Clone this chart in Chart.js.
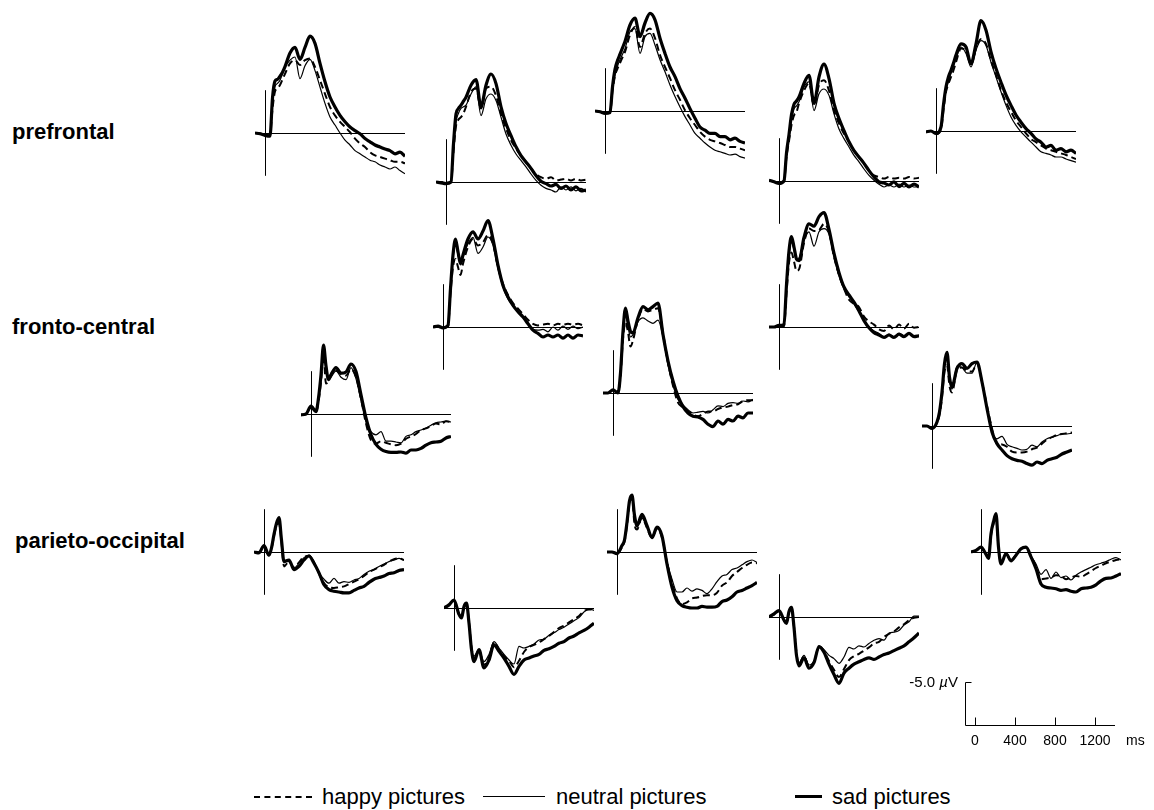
<!DOCTYPE html>
<html>
<head>
<meta charset="utf-8">
<script src="https://cdn.jsdelivr.net/npm/chart.js@4.4.1/dist/chart.umd.min.js"></script>
<style>
  body { margin:0; background:#fff; width:1154px; height:810px; position:relative; overflow:hidden;
         font-family:"Liberation Sans", Arial, sans-serif; color:#000; }
  canvas { position:absolute; }
  .region { position:absolute; font-weight:bold; font-size:22px; line-height:22px; white-space:nowrap; }
  .leg { position:absolute; font-size:22px; line-height:22px; white-space:nowrap; }
  .legline { position:absolute; height:0; }
  .unit { position:absolute; font-size:15px; line-height:15px; white-space:nowrap; }
</style>
</head>
<body>
<script>
// time points (ms) shared by every waveform
const times = [-100,-50,0,50,75,100,125,150,175,200,250,300,350,400,450,500,550,600,650,700,
  750,800,850,900,950,1000,1050,1100,1150,1200,1250,1300,1350,1400];
const conditions = ['happy pictures', 'neutral pictures', 'sad pictures'];
const regions = ['prefrontal', 'fronto-central', 'parieto-occipital'];
const scaleTicksMs = [0, 400, 800, 1200];
const scaleBarUv = -5.0;

// amplitudes in µV (negative plotted upward)
// prefrontal
const pf1Happy = [0,0.1,0.2,0.3,-3,-5.2,-5.6,-6,-6.7,-7.4,-8.7,-9.1,-8.5,-9.1,-9.3,-8.25,-6.6,-4.9,-3.25,-2.2,-1.4,-0.75,-0.1,0.7,1.3,1.75,2.4,2.8,3.0,3.2,3.4,3.6,3.6,3.8];
const pf1Neutral = [0,0,0.2,0.3,-3.5,-5.8,-6.2,-6.6,-7.4,-8.2,-9.1,-9.5,-6.8,-8.4,-9.2,-7.8,-5.75,-3.7,-2,-1,0,0.9,1.5,2.2,2.6,3.0,3.4,3.6,4.0,4.25,4.5,4.25,4.7,5.1];
const pf1Sad = [0,0.1,0.3,0.4,-4.4,-6.5,-6.7,-7.1,-7.6,-8.3,-10,-10.7,-9.2,-10.7,-12.1,-11.2,-8.7,-6.4,-4.5,-3.25,-2.2,-1.4,-0.75,-0.3,0.1,0.7,1.1,1.5,1.75,2.0,2.2,2.6,2.4,2.9];

const pf2Happy = [0,0,0.1,0,-3.8,-7,-7.8,-8.1,-8.6,-9.4,-11.25,-11.7,-9.2,-11.7,-11.9,-10.8,-8.5,-6.7,-5.2,-4.2,-3.3,-2.5,-1.7,-1.0,-0.6,-0.4,-0.6,-0.2,-0.3,-0.4,-0.2,-0.4,-0.2,-0.3];
const pf2Neutral = [0,0,0.1,0,-4.2,-7.5,-8.6,-9.2,-9.4,-9.6,-11,-11.9,-8.3,-10.4,-11,-10.2,-8.1,-6,-4.6,-3.5,-2.7,-1.9,-1.0,-0.2,0.4,0.8,1.0,1.25,0.6,1.0,0.6,1.1,0.8,1.25];
const pf2Sad = [0,0.1,0.2,0,-4.8,-8.5,-9.2,-9.6,-10.1,-10.6,-12.1,-12.8,-9.4,-12.1,-13.5,-12.3,-9.4,-7.3,-5.8,-4.4,-3.3,-2.5,-1.7,-0.8,-0.1,0.2,0.5,0.3,0.8,0.5,1.0,0.6,1.1,1.0];

const pf3Happy = [0,0.1,0.2,0.2,-2.5,-4.4,-5.3,-6,-6.7,-7.4,-9.5,-10.5,-8,-9.7,-10.3,-9.1,-7,-5.5,-4.1,-2.6,-1.4,-0.1,0.9,1.75,2.6,3.2,3.6,3.8,4,4.25,4.5,4.5,4.7,4.9];
const pf3Neutral = [0,0.1,0.2,0.2,-2.6,-4.5,-5.6,-6.4,-7.1,-7.8,-9.9,-10.3,-7.2,-9.3,-9.7,-8.25,-6.4,-4.9,-3.25,-1.8,-0.5,0.7,1.75,2.8,3.4,4,4.5,4.9,5.1,5.3,5.5,5.4,5.7,5.9];
const pf3Sad = [0,0.1,0.3,0.2,-3,-5.2,-6.3,-7.1,-7.9,-8.7,-10.75,-11.6,-9.3,-11,-12.2,-11.4,-9.1,-7.2,-5.5,-4.3,-2.8,-1.6,-0.3,0.9,2,2.4,2.8,2.8,3.2,3.2,3.6,3.4,3.8,4.0];

const pf4Happy = [-0.1,0.1,0.2,0,-3,-5,-7,-8.2,-8.6,-9.7,-11.3,-12.2,-9.5,-12,-12.6,-11.3,-8.8,-7.2,-5.9,-4.9,-3.8,-3,-2.2,-1.3,-0.7,-0.5,-0.3,-0.5,-0.3,-0.4,-0.3,-0.5,-0.3,-0.4];
const pf4Neutral = [-0.1,0.1,0.2,0,-3.2,-5.3,-7.6,-9.0,-9.4,-9.9,-11.75,-12.4,-8.8,-10.9,-11.5,-10.7,-8.4,-6.5,-5.3,-4.25,-3.2,-2.4,-1.5,-0.7,-0.1,0.4,0.75,0.5,0.75,0.4,0.75,0.5,0.75,0.7];
const pf4Sad = [-0.1,0.1,0.3,0,-3.5,-5.8,-8.3,-9.6,-10,-10.5,-12.2,-13.2,-9.7,-13,-14.6,-12.8,-9.7,-7.8,-6.3,-4.9,-3.8,-3,-2.2,-1.3,-0.5,0.1,0.25,0.5,0.1,0.7,0.3,0.75,0.4,0.75];

const pf5Happy = [0.1,0,0.4,-0.2,-2.6,-4.9,-5.9,-6.75,-7.6,-8.6,-10.3,-10.1,-8.4,-10.3,-11.5,-10.9,-8.8,-7,-5.1,-3.6,-2.4,-1.3,-0.5,0.3,1,1.4,1.8,2.2,2.4,2.6,2.8,3,3.25,3.5];
const pf5Neutral = [0.1,0,0.3,-0.3,-2.8,-5.1,-6.2,-7.2,-8.1,-9,-10.5,-9.7,-8,-10.1,-11.3,-10.7,-8.6,-6.75,-4.9,-3.2,-1.75,-0.7,0.1,0.75,1.4,2,2.6,2.8,3,3.25,3.25,3.5,3.7,3.9];
const pf5Sad = [0.1,0,0.3,-0.5,-3.3,-5.5,-6.8,-7.6,-8.5,-9.5,-10.9,-10.5,-8.4,-10.9,-13.8,-12.6,-9.9,-7.8,-6.1,-4.5,-3.2,-2,-1.1,-0.3,0.3,1,1.4,2,1.8,2.4,2.2,2.6,2.4,2.8];

// fronto-central
const fc1Happy = [0,0,0.1,-0.1,-4.2,-7.5,-8.5,-7.5,-6.5,-7.9,-10,-11,-10.2,-10.6,-11.5,-10.4,-7.5,-5.4,-4,-3,-2.3,-1.6,-0.9,-0.4,-0.2,-0.3,-0.4,-0.2,-0.4,-0.3,-0.4,-0.3,-0.4,-0.2];
const fc1Neutral = [0,0,0.1,-0.1,-4.5,-8.5,-10.4,-9,-8,-8.75,-10.4,-11.2,-9.2,-10,-11.25,-10.2,-7.3,-5,-3.5,-2.7,-1.9,-1.2,-0.4,0.3,0.4,0.3,0.6,0,0.4,-0.1,0.3,-0.1,0.2,0];
const fc1Sad = [0,-0.1,0.1,-0.2,-4.8,-9,-11,-9.4,-7.9,-9,-11,-11.9,-11,-12,-13.3,-11,-7.7,-5.2,-3.75,-2.7,-1.9,-1.25,-0.4,0.4,0.8,1.25,1.0,1.25,1.0,1.4,1.0,1.4,1.0,1.1];

const fc2Happy = [0,0,-0.1,-0.1,-4.2,-8,-9.3,-8.2,-7,-7.2,-10.5,-12.3,-12,-12.1,-12.9,-11.9,-8.8,-6.5,-4.8,-3.4,-2.9,-2.5,-1.3,-0.7,-0.3,0.3,0.5,-0.2,0.3,-0.3,0.2,-0.4,0.1,0];
const fc2Neutral = [0,0,-0.1,-0.2,-4.8,-8.8,-10.6,-9.6,-8.3,-8.6,-10.8,-11.9,-10.1,-11.9,-12.3,-11.6,-8.8,-6.4,-4.8,-3.8,-2.9,-1.9,-0.9,0,0.5,0.8,1.2,0.9,1.2,0.8,1.1,0.9,1.2,1.0];
const fc2Sad = [0,0,-0.2,-0.3,-5.3,-9.5,-11.3,-10.0,-8.5,-8.3,-11.2,-12.9,-12.6,-13.8,-14.3,-12.2,-9.2,-6.8,-5,-4,-3.1,-2,-0.8,0.1,0.7,1.0,1.3,1.0,1.3,0.9,1.2,0.8,1.2,1.1];

const fc3Happy = [0.1,0,-0.8,-0.2,-1.6,-4.0,-7.2,-3.8,-4.2,-5,-5.4,-5,-4.8,-5.6,-4.6,-1.9,1.2,3.3,3.7,3.4,3.6,3.8,3.9,3.7,3.1,2.8,2.5,2.0,1.8,1.5,1.2,1.3,0.9,1.0];
const fc3Neutral = [0.1,0,-0.8,-0.2,-1.8,-4.6,-8.2,-5.5,-4.4,-4.6,-5.4,-4.6,-4.3,-5.8,-4.4,-1.7,0.9,2.2,2.6,2.2,3.4,3.4,3.5,3.6,2.8,2.6,2.2,2.0,1.75,1.4,1.1,1.0,0.9,1.0];
const fc3Sad = [0.1,0,-1.0,-0.3,-2.0,-4.9,-8.6,-6.0,-4.3,-4.9,-5.8,-5.1,-5.25,-6.25,-5.3,-2.4,0.5,2.6,3.8,4.4,4.7,4.8,4.8,4.75,4.9,4.5,4.5,4.3,3.9,3.6,3.5,3.4,3.0,2.8];

const fc4Happy = [0,0,-0.3,0,-2,-6.8,-8.8,-7.6,-5.8,-6.6,-9.2,-10.5,-10.2,-10.4,-10.6,-7.5,-3.8,-0.9,1.2,1.8,2.3,2.7,2.9,2.6,2.3,2.3,2.0,1.8,1.7,1.5,1.4,1.0,0.9,0.9];
const fc4Neutral = [0,0,-0.3,0,-2.3,-7.3,-9.6,-8.3,-7,-7.3,-8.9,-9.4,-9,-8.7,-9.1,-7,-3.5,-1,0.8,1.5,2.1,2.5,2.4,2.3,2.5,2.1,1.6,1.7,1.3,1.2,1.3,1.0,1.1,0.8];
const fc4Sad = [0,0,-0.4,0,-2.5,-7.7,-10.6,-9,-7.7,-7.5,-9.4,-10.8,-10.4,-10.8,-11.25,-7.3,-4,-1.5,0.4,1.7,2.5,2.9,3,3.3,3.9,4.2,3.5,3.9,3.3,3.5,2.9,3.1,2.5,2.5];

const fc5Happy = [0,0,0.3,-0.4,-1.4,-3.6,-6.8,-7.6,-5,-4.2,-7,-7.3,-6.9,-6.8,-7.8,-5.5,-2.5,0.3,2.2,2.3,2.6,3.2,3.3,3.3,3.2,2.9,2.7,2.2,1.7,1.4,1.1,1.0,0.9,0.8];
const fc5Neutral = [0,0,0.3,-0.4,-1.6,-4,-7.4,-8.8,-5.8,-4.6,-7.5,-7.3,-6.6,-6.6,-8,-5.5,-2.2,0.8,1.6,1.3,2.3,2.6,2.8,3.0,2.9,2.4,2.6,2.0,1.6,1.4,1.2,1.0,1.0,0.9];
const fc5Sad = [0,0,0.3,-0.5,-1.75,-4.25,-7.8,-9.2,-6.1,-4.9,-7.2,-7.8,-7.2,-7.8,-8,-5.5,-2.2,0.75,2.2,3.0,3.7,4.1,4.3,4.4,4.7,4.9,4.5,4.7,4.3,4.1,3.9,3.5,3.25,3.0];

// parieto-occipital
const po1Happy = [0,0.1,-0.7,0.4,-0.4,-2.0,-3.3,-3.6,-1.2,1.8,1.2,1.9,1.3,0.6,0.5,1.3,2.7,3.9,4.4,4.5,4.4,4.3,4.0,3.7,3.4,3.0,2.5,2.2,1.9,1.6,1.2,0.9,0.8,1.0];
const po1Neutral = [0,0.1,-0.8,0.4,-0.5,-2.1,-3.4,-3.8,-1.3,1.1,1.2,2.0,1.4,0.7,0.4,1.2,2.6,3.4,3.9,3.3,3.9,3.7,3.8,3.5,3.3,2.8,2.4,2.2,1.8,1.5,1.2,1.0,0.8,1.0];
const po1Sad = [0,0.1,-0.8,0.4,-0.5,-2.2,-3.6,-4.3,-1.5,1.2,1.0,2.2,1.8,1.0,0.5,1.4,2.6,4.1,4.7,4.9,5.0,5.1,5.1,4.8,4.5,4.3,3.8,3.4,3.2,3.0,2.7,2.6,2.3,2.2];

const po2Happy = [0,-0.3,-0.9,0.8,1.2,-0.2,-0.5,1.8,4.9,6.3,5.4,7.1,6.2,4.3,5.2,6.0,6.6,7.4,6.6,5.5,4.9,4.6,4.3,3.9,3.5,3.0,2.5,2.2,1.8,1.4,1.0,0.4,0.2,0.2];
const po2Neutral = [0,-0.4,-1.0,0.8,1.2,-0.2,-0.5,1.9,5.0,6.0,5.2,6.7,5.8,4.2,5.0,5.8,6.5,7.0,4.8,5.0,4.8,4.5,4.0,3.9,3.4,3.1,2.7,2.4,2.0,1.6,1.2,0.5,0.1,0.3];
const po2Sad = [0,-0.4,-1.0,0.8,1.25,-0.2,-0.6,1.9,5.2,6.7,5.2,7.5,6.5,4.6,5.4,6.25,7.3,8.3,7.3,6.5,6.25,6.0,5.8,5.3,5.1,4.8,4.4,4.2,3.75,3.5,3.1,2.8,2.4,1.9];

const po3Happy = [0,0,0.2,-0.6,-1.3,-3.4,-6.2,-6.8,-3.5,-2.8,-4.3,-3.0,-1.8,-2.9,-1.8,1.3,3.8,5.8,6.5,6.3,5.8,5.7,5.5,5.4,5.4,5.1,4.2,3.8,3.0,2.5,2.0,1.6,1.3,1.4];
const po3Neutral = [0,0,0.3,-0.7,-1.4,-3.5,-6.0,-6.6,-4.4,-3.1,-4.2,-3.2,-1.9,-3.0,-1.9,1.2,3.4,5.0,5.0,4.5,4.9,4.6,4.8,5.2,4.6,3.7,3.0,2.8,2.2,2.0,1.6,1.2,1.0,1.3];
const po3Sad = [0,0,0.2,-0.8,-1.5,-3.7,-6.4,-7.1,-4.6,-3.3,-4.7,-3.3,-1.8,-3.1,-2.0,1.5,4.4,6.1,6.7,6.9,7.0,7.0,6.8,6.9,6.9,6.8,6.2,6.0,5.6,5.0,4.8,4.5,4.2,3.8];

const po4Happy = [0,-0.3,-0.7,0.4,0.7,-0.6,-1.1,1.2,4.5,5.9,4.9,6.2,5.6,3.7,4.3,5.5,6.6,7.5,6.5,5.4,4.9,4.6,4.2,3.8,3.3,3.1,2.5,2.1,1.8,1.3,0.9,0.4,0.1,0.0];
const po4Neutral = [0,-0.4,-0.7,0.4,0.7,-0.6,-1.0,1.3,4.6,5.7,4.8,6.0,5.5,3.6,4.1,4.8,5.2,5.8,5.0,3.8,4.0,3.6,3.75,3.3,2.9,2.7,2.9,2.0,1.9,1.7,1.0,0.6,-0.1,-0.1];
const po4Sad = [0,-0.4,-0.8,0.4,0.8,-0.7,-1.2,1.3,4.8,6.1,5.1,6.4,5.7,3.7,4.4,5.9,7.2,8.3,7.0,6.4,5.9,5.6,5.3,5.1,5.3,5.0,4.7,4.5,4.2,3.9,3.6,3.1,2.6,2.0];

const po5Happy = [0,-0.2,-0.5,0.3,0.7,-2.0,-3.5,-4.4,-0.5,1.4,0.2,1.0,0.4,-0.4,-0.5,0.5,1.8,3.4,3.3,3.2,2.9,3.0,3.4,3.2,3.0,3.1,2.8,2.4,2.0,1.7,1.4,1.2,1.0,0.9];
const po5Neutral = [0,-0.2,-0.5,0.3,0.7,-2.1,-3.6,-4.5,-0.5,1.3,0.2,1.0,0.3,-0.4,-0.5,0.5,1.5,2.8,2.2,3.3,2.5,3.2,3.0,3.5,2.9,2.5,2.2,1.9,1.6,1.4,1.2,0.9,0.7,1.0];
const po5Sad = [0,-0.2,-0.6,0.3,0.8,-2.3,-3.8,-4.8,-0.6,1.5,0.2,1.1,0.4,-0.4,-0.6,0.6,2.1,4.0,4.4,4.5,4.6,4.8,4.7,4.9,5.0,4.6,4.5,4.4,4.1,3.6,3.3,3.25,3.0,2.7];

// page layout: where each electrode's origin (0 ms, 0 µV) sits
const panels = [
  {x0:265, y0:133, series:[pf1Happy, pf1Neutral, pf1Sad]},
  {x0:446, y0:182, series:[pf2Happy, pf2Neutral, pf2Sad]},
  {x0:605, y0:111, series:[pf3Happy, pf3Neutral, pf3Sad]},
  {x0:779, y0:181, series:[pf4Happy, pf4Neutral, pf4Sad]},
  {x0:936, y0:131, series:[pf5Happy, pf5Neutral, pf5Sad]},
  {x0:443, y0:327, series:[fc1Happy, fc1Neutral, fc1Sad]},
  {x0:779, y0:327, series:[fc2Happy, fc2Neutral, fc2Sad]},
  {x0:311, y0:414, series:[fc3Happy, fc3Neutral, fc3Sad]},
  {x0:613, y0:393, series:[fc4Happy, fc4Neutral, fc4Sad]},
  {x0:932, y0:426, series:[fc5Happy, fc5Neutral, fc5Sad]},
  {x0:264, y0:552, series:[po1Happy, po1Neutral, po1Sad]},
  {x0:454, y0:608, series:[po2Happy, po2Neutral, po2Sad]},
  {x0:617, y0:552, series:[po3Happy, po3Neutral, po3Sad]},
  {x0:779, y0:617, series:[po4Happy, po4Neutral, po4Sad]},
  {x0:981, y0:552, series:[po5Happy, po5Neutral, po5Sad]}
];

const PX_MS = 0.1, PX_UV = 8, PAD = 5;
const Y_MIN = -15, Y_MAX = 9, AXIS_UV = 5.35;
const T0 = times[0], T1 = times[times.length - 1];

const lineStyles = [
  {borderWidth: 2, borderDash: [7, 4], order: 2},
  {borderWidth: 1.2, borderDash: [], order: 1},
  {borderWidth: 3.2, borderDash: [], order: 0}
];

// baseline and stimulus-onset line of each electrode plot
const erpAxes = {
  id: 'erpAxes',
  beforeDatasetsDraw(chart) {
    const {ctx, scales: {x, y}} = chart;
    const yz = Math.round(y.getPixelForValue(0)) + 0.5;
    const xz = Math.round(x.getPixelForValue(0)) + 0.5;
    ctx.save();
    ctx.strokeStyle = '#000';
    ctx.lineWidth = 1;
    ctx.beginPath();
    ctx.moveTo(x.getPixelForValue(T0), yz);
    ctx.lineTo(x.getPixelForValue(T1), yz);
    ctx.moveTo(xz, y.getPixelForValue(-AXIS_UV));
    ctx.lineTo(xz, y.getPixelForValue(AXIS_UV));
    ctx.stroke();
    ctx.restore();
  }
};

function addCanvas(left, top, w, h) {
  const c = document.createElement('canvas');
  c.width = w; c.height = h;
  c.style.left = left + 'px'; c.style.top = top + 'px';
  c.style.width = w + 'px'; c.style.height = h + 'px';
  document.body.appendChild(c);
  return c;
}

panels.forEach(p => {
  const w = (T1 - T0) * PX_MS + 2 * PAD;
  const h = (Y_MAX - Y_MIN) * PX_UV + 2 * PAD;
  const c = addCanvas(p.x0 + T0 * PX_MS - PAD, p.y0 + Y_MIN * PX_UV - PAD, w, h);
  new Chart(c, {
    type: 'line',
    data: {
      datasets: conditions.map((name, i) => ({
        label: name,
        data: p.series[i].map((v, j) => ({x: times[j], y: v})),
        borderColor: '#000',
        borderWidth: lineStyles[i].borderWidth,
        borderDash: lineStyles[i].borderDash,
        order: lineStyles[i].order,
        pointRadius: 0,
        cubicInterpolationMode: 'monotone',
        fill: false
      }))
    },
    options: {
      responsive: false,
      animation: false,
      devicePixelRatio: 1,
      layout: {padding: PAD},
      plugins: {legend: {display: false}, tooltip: {enabled: false}},
      scales: {
        x: {type: 'linear', min: T0, max: T1, display: false},
        y: {min: Y_MIN, max: Y_MAX, reverse: true, display: false}
      }
    },
    plugins: [erpAxes]
  });
});

// calibration bar (-5.0 µV, 0-1200 ms)
const scaleBar = {
  id: 'scaleBar',
  afterDraw(chart) {
    const {ctx, scales: {x, y}} = chart;
    const xl = Math.round(x.getPixelForValue(T0)) + 0.5;
    const yb = Math.round(y.getPixelForValue(0)) + 0.5;
    const yt = Math.round(y.getPixelForValue(scaleBarUv)) + 0.5;
    ctx.save();
    ctx.strokeStyle = '#000';
    ctx.lineWidth = 1;
    ctx.beginPath();
    ctx.moveTo(xl + 6, yt); ctx.lineTo(xl, yt); ctx.lineTo(xl, yb);
    ctx.lineTo(x.getPixelForValue(T1), yb);
    scaleTicksMs.forEach(t => {
      const xp = Math.round(x.getPixelForValue(t)) + 0.5;
      ctx.moveTo(xp, yb); ctx.lineTo(xp, yb - 8);
    });
    ctx.stroke();
    ctx.fillStyle = '#000';
    ctx.font = '14px "Liberation Sans", Arial, sans-serif';
    ctx.textAlign = 'center';
    ctx.textBaseline = 'middle';
    scaleTicksMs.forEach(t => ctx.fillText(String(t), x.getPixelForValue(t), yb + 16));
    ctx.textAlign = 'left';
    ctx.fillText('ms', x.getPixelForValue(T1) + 11, yb + 16);
    ctx.restore();
  }
};
const sc = addCanvas(955, 670, 200, 92);
new Chart(sc, {
  type: 'line',
  data: {datasets: []},
  options: {
    responsive: false, animation: false, devicePixelRatio: 1,
    layout: {padding: {left: 10, right: 40, top: 12, bottom: 37}},
    plugins: {legend: {display: false}, tooltip: {enabled: false}},
    scales: {
      x: {type: 'linear', min: T0, max: T1, display: false},
      y: {min: scaleBarUv, max: 0, reverse: true, display: false}
    }
  },
  plugins: [scaleBar]
});
</script>

<div class="region" style="left:12px;top:121px">prefrontal</div>
<div class="region" style="left:12px;top:316px">fronto-central</div>
<div class="region" style="left:15px;top:530px">parieto-occipital</div>

<div class="unit" style="left:880px;top:674px;width:78px;text-align:right">-5.0 <i>µ</i>V</div>

<div class="legline" style="left:254px;top:796px;width:58px;border-top:2px dashed #000"></div>
<div class="leg" style="left:322px;top:786px">happy pictures</div>
<div class="legline" style="left:483px;top:796px;width:62px;border-top:1px solid #000"></div>
<div class="leg" style="left:556px;top:786px">neutral pictures</div>
<div class="legline" style="left:795px;top:795px;width:27px;border-top:3px solid #000"></div>
<div class="leg" style="left:832px;top:786px">sad pictures</div>
</body>
</html>
